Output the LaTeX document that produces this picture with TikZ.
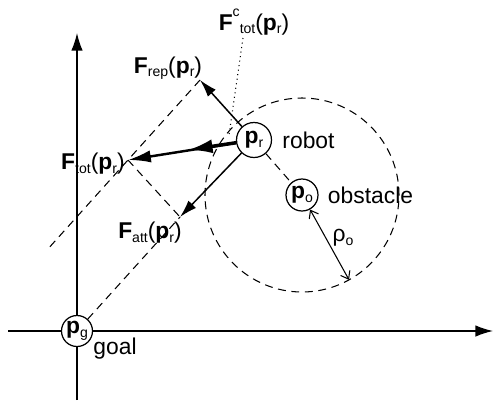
\documentclass[tikz,border=0pt]{standalone}
\usepackage{fontspec}
\setmainfont{Liberation Sans}
\usetikzlibrary{arrows.meta,calc,positioning}

\newcommand{\lowtxt}[1]{\raisebox{-0.3ex}{\fontsize{8}{9}\selectfont #1}}
\newcommand{\hightxt}[1]{\raisebox{1.1ex}{\fontsize{8}{9}\selectfont #1}}
\newcommand{\force}[1]{\textbf{F}\lowtxt{#1}(\textbf{p}\lowtxt{r})}

\begin{document}
\begin{tikzpicture}[x=0.02cm,y=0.02cm,font=\fontsize{13}{15}\selectfont,
    pt/.style={draw,circle,inner sep=0pt,line width=0.7pt,fill=white},
    lbl/.style={inner sep=0pt},
    guide/.style={line width=0.6pt,dash pattern=on 4.5pt off 3.2pt},
    axis/.style={line width=0.75pt,-{Latex[length=10pt,width=6.5pt]}},
    vec/.style={line width=0.85pt,-{Latex[length=10pt,width=6pt]}}]
    \useasboundingbox (0,0) rectangle (496,400);
    % points
    \node[pt,minimum size=0.62cm] (pg) at (77,69) {\textbf{p}\lowtxt{g}};
    \node[pt,minimum size=0.7cm] (pr) at (254,260) {\textbf{p}\lowtxt{r}};
    \node[pt,minimum size=0.64cm] (po) at (302,205) {\textbf{p}\lowtxt{o}};
    \coordinate (rep) at (200,320);
    \coordinate (att) at (180,183);
    \coordinate (tot) at (128,240);
    \coordinate (ctot) at (188,250);
    \coordinate (ext) at ($(tot)!-1.13!(rep)$);
    \coordinate (xl) at (8,69);
    \coordinate (xr) at (493,69);
    \coordinate (yb) at (77,0);
    \coordinate (yt) at (77,367);
    \coordinate (ctop) at (243,362);
    \coordinate (cfoot) at (229,265);
    % axes
    \draw[axis] (xl) -- (pg) (pg) -- (xr);
    \draw[axis] (yb) -- (pg) (pg) -- (yt);
    % construction lines
    \draw[guide] (po) circle[radius=97];
    \draw[guide] (rep) -- (tot) -- (ext);
    \draw[guide] (tot) -- (att);
    \draw[guide] (pg) -- (att);
    \draw[guide] (pr) -- (po);
    % forces
    \draw[vec] (pr) -- (rep);
    \draw[vec] (pr) -- (att);
    \draw[line width=1.4pt,-{Latex[length=13pt,width=7pt]}] (pr) -- (tot);
    \draw[line width=2pt,-{Latex[length=14pt,width=8pt]}] (pr) -- (ctot);
    \draw[line width=0.6pt,dotted] (ctop) -- (cfoot);
    \draw[line width=0.6pt,{Straight Barb[length=4pt,width=6pt]}-{Straight Barb[length=4pt,width=6pt]}]
        (po.-61) -- ($(po.center)+(-61:97)$);
    % labels
    \node[lbl] (lrep) at (168,332) {\force{rep}};
    \node[lbl,anchor=east] (ltot) at (125,236) {\force{tot}};
    \node[lbl] (latt) at (150,167) {\force{att}};
    \node[lbl] (lctot) at (254,378) {\textbf{F}\hightxt{c}\lowtxt{tot}(\textbf{p}\lowtxt{r})};
    \node[lbl] (lrho) at (343,162) {ρ\lowtxt{o}};
    \node[lbl,right=0.2cm of pr] (lrobot) {robot};
    \node[lbl,right=0.18cm of po] (lobst) {obstacle};
    \node[lbl] (lgoal) at (115,51) {goal};
\end{tikzpicture}
\end{document}
